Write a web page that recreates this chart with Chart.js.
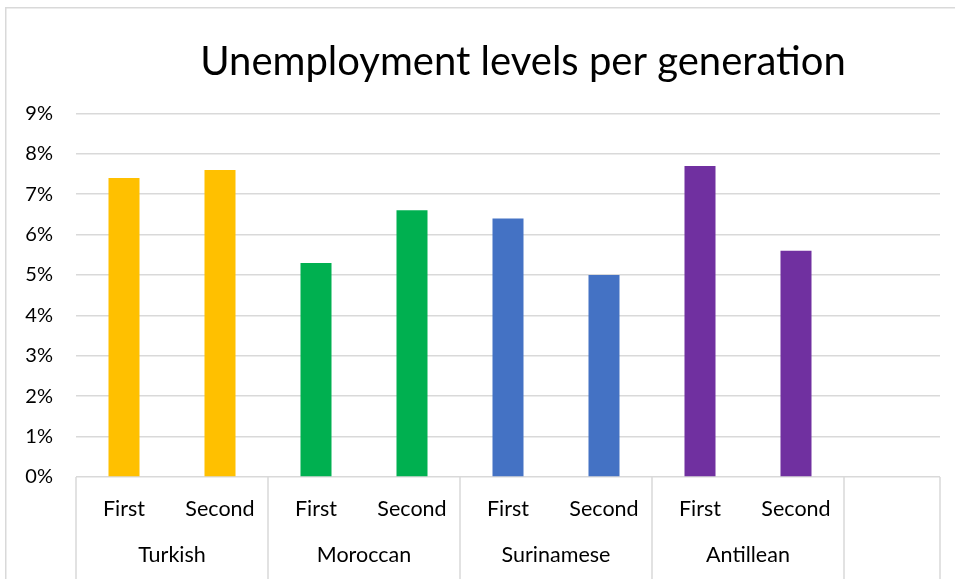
<!DOCTYPE html>
<html>
<head>
<meta charset="utf-8">
<script src="https://cdn.jsdelivr.net/npm/chart.js@4.4.1/dist/chart.umd.min.js"></script>
<style>
  html, body { margin: 0; padding: 0; background: #fff; overflow: hidden; width: 955px; height: 579px; }
  #wrap { position: absolute; left: 5px; top: 7px; }
</style>
</head>
<body>
<div id="wrap"><canvas id="c" width="1036" height="580"></canvas></div>
<script>
// ---- data ----
const title = 'Unemployment levels per generation';
const groups = ['Turkish', 'Moroccan', 'Surinamese', 'Antillean'];
const generations = ['First', 'Second'];
const unemployment = [7.4, 7.6, 5.3, 6.6, 6.4, 5.0, 7.7, 5.6]; // percent, group-major order
const yTicksMax = 9;
const yStep = 1;

// ---- styles ----
const groupColors = ['#FFC000', '#00B050', '#4472C4', '#7030A0'];
const gridColor = '#D9D9D9';
const textColor = '#000000';
const fontFamily = 'Lato, "Open Sans", sans-serif';

// build labels/data (one empty slot at the end, as in the reference)
const labels = [];
const colors = [];
groups.forEach((g, gi) => generations.forEach(gen => { labels.push(gen); colors.push(groupColors[gi]); }));
labels.push('');
colors.push('rgba(0,0,0,0)');
const data = unemployment.concat([null]);

const decor = {
  id: 'decor',
  beforeDraw(chart) {
    const ctx = chart.ctx;
    ctx.save();
    ctx.fillStyle = '#fff';
    ctx.fillRect(0, 0, chart.width, chart.height);
    ctx.strokeStyle = gridColor;
    ctx.lineWidth = 1.5;
    ctx.strokeRect(0.75, 0.75, chart.width + 10, chart.height + 10);
    ctx.restore();
  },
  afterDraw(chart) {
    const ctx = chart.ctx;
    const x = chart.scales.x;
    const area = chart.chartArea;
    const slot = x.getPixelForValue(1) - x.getPixelForValue(0);
    ctx.save();
    ctx.strokeStyle = gridColor;
    ctx.lineWidth = 1.5;
    const bounds = [];
    for (let i = 0; i <= labels.length - 1; i += 2) bounds.push(x.getPixelForValue(i) - slot / 2);
    bounds.push(x.getPixelForValue(labels.length - 1) + slot / 2);
    bounds.forEach(px => {
      ctx.beginPath();
      ctx.moveTo(px, area.bottom);
      ctx.lineTo(px, chart.height);
      ctx.stroke();
    });
    ctx.fillStyle = textColor;
    ctx.font = '21.5px ' + fontFamily;
    ctx.textAlign = 'center';
    ctx.textBaseline = 'middle';
    groups.forEach((g, gi) => {
      const cx = (x.getPixelForValue(gi * 2) + x.getPixelForValue(gi * 2 + 1)) / 2;
      ctx.fillText(g, cx, area.bottom + 78);
    });
    ctx.restore();
  }
};

new Chart(document.getElementById('c'), {
  type: 'bar',
  data: {
    labels: labels,
    datasets: [{
      data: data,
      backgroundColor: colors,
      barPercentage: 0.323,
      categoryPercentage: 1.0
    }]
  },
  options: {
    responsive: false,
    animation: false,
    devicePixelRatio: 1,
    layout: { padding: 0 },
    plugins: {
      legend: { display: false },
      tooltip: { enabled: false },
      title: {
        display: true,
        text: title,
        color: textColor,
        font: { family: fontFamily, size: 40, weight: 'normal' },
        padding: { top: 31, bottom: 27.4 }
      }
    },
    scales: {
      x: {
        grid: { display: false },
        border: { display: false },
        ticks: { color: textColor, font: { family: fontFamily, size: 21.5 }, padding: 11, maxRotation: 0, autoSkip: false },
        afterFit(s) { s.height = 110; }
      },
      y: {
        min: 0,
        max: yTicksMax,
        grid: { color: gridColor, lineWidth: 1.5, drawTicks: false },
        border: { display: false },
        ticks: { stepSize: yStep, color: textColor, font: { family: fontFamily, size: 20 }, padding: 23,
                 callback: v => v + '%' },
        afterFit(s) { s.width = 71; }
      },
      yR: {
        position: 'right',
        display: true,
        grid: { display: false },
        border: { display: false },
        ticks: { display: false },
        afterFit(s) { s.width = 101; }
      }
    }
  },
  plugins: [decor]
});
</script>
</body>
</html>
